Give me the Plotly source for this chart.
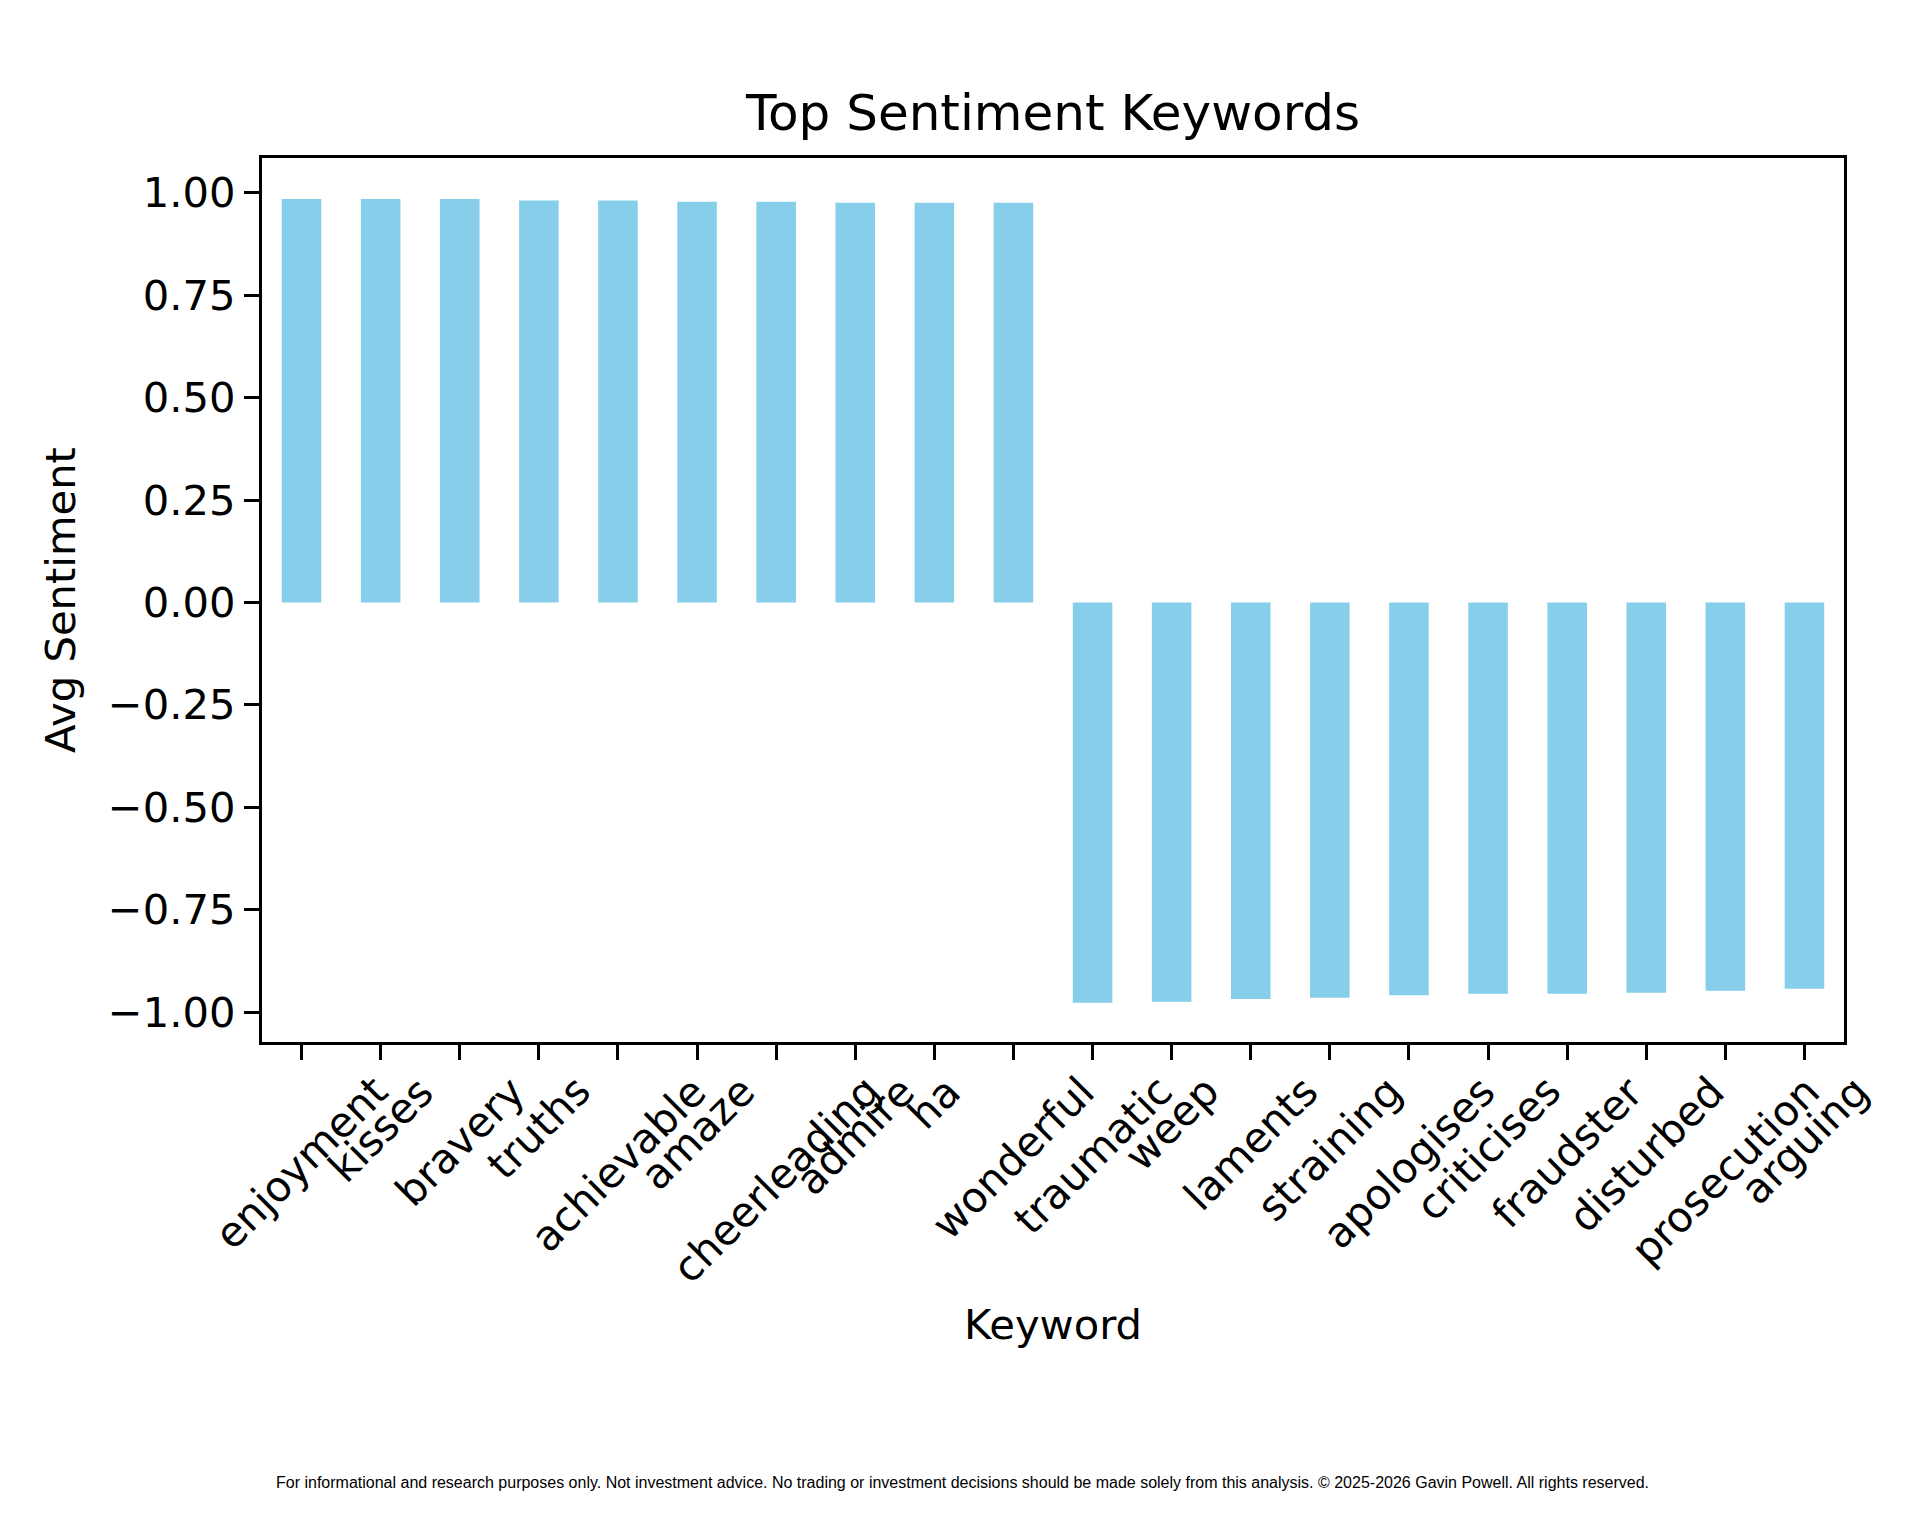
import plotly.graph_objects as go

# keywords and their average sentiment
keywords = ["enjoyment", "kisses", "bravery", "truths", "achievable", "amaze",
            "cheerleading", "admire", "ha", "wonderful", "traumatic", "weep",
            "laments", "straining", "apologises", "criticises", "fraudster",
            "disturbed", "prosecution", "arguing"]
avg_sentiment = [0.985, 0.985, 0.985, 0.981, 0.981, 0.978, 0.978, 0.976, 0.976, 0.976,
                 -0.977, -0.975, -0.968, -0.965, -0.959, -0.955, -0.955, -0.953, -0.948, -0.943]

y_ticks = [-1.0, -0.75, -0.5, -0.25, 0.0, 0.25, 0.5, 0.75, 1.0]
y_tick_text = ["\u22121.00", "\u22120.75", "\u22120.50", "\u22120.25", "0.00",
               "0.25", "0.50", "0.75", "1.00"]

title = "Top Sentiment Keywords"
x_title = "Keyword"
y_title = "Avg Sentiment"
footnote = ("For informational and research purposes only. Not investment advice. "
            "No trading or investment decisions should be made solely from this analysis. "
            "\u00a9 2025-2026 Gavin Powell. All rights reserved.")

W, H = 1920, 1520
L, R, T, B = 254, 1836, 150, 1034
pw, ph = R - L, B - T
FONT = "DejaVu Sans"
fs = 41.7

fig = go.Figure(go.Bar(x=keywords, y=avg_sentiment, width=0.5,
                       marker_color="#87CEEB", marker_line_width=0))

# rotated tick labels, centred under each tick like matplotlib
for k in keywords:
    fig.add_annotation(x=k, y=0, xref="x", yref="paper", text=k, textangle=-45,
                       xanchor="center", yanchor="top", yshift=-22, showarrow=False,
                       font=dict(family=FONT, size=fs, color="black"))

fig.add_annotation(x=0.5, y=(B - 1316) / ph, xref="paper", yref="paper", text=x_title,
                   showarrow=False, xanchor="center", yanchor="middle",
                   font=dict(family=FONT, size=fs, color="black"))
fig.add_annotation(x=(52 - L) / pw, y=0.5, xref="paper", yref="paper", text=y_title,
                   textangle=-90, showarrow=False, xanchor="center", yanchor="middle",
                   font=dict(family=FONT, size=fs, color="black"))
fig.add_annotation(x=(954 - L) / pw, y=(B - 1474) / ph, xref="paper", yref="paper",
                   text=footnote, showarrow=False, xanchor="center", yanchor="middle",
                   font=dict(family="Liberation Sans", size=16, color="black"))

fig.update_layout(
    width=W, height=H,
    margin=dict(l=L, r=W - R, t=T, b=H - B, pad=0),
    paper_bgcolor="white", plot_bgcolor="white",
    showlegend=False,
    title=dict(text=title, x=0.5, xref="paper", xanchor="center",
               y=(H - 104) / H, yanchor="middle",
               font=dict(family=FONT, size=50, color="black")),
    font=dict(family=FONT, color="black"),
)
fig.update_xaxes(range=[-0.5, 19.5], showticklabels=False, ticks="outside",
                 ticklen=15, tickwidth=3.3, tickcolor="black",
                 showline=True, linewidth=3.3, linecolor="black", mirror=True,
                 showgrid=False, zeroline=False)
fig.update_yaxes(range=[-1.073, 1.085], tickvals=y_ticks, ticktext=y_tick_text,
                 ticks="outside", ticklen=15, tickwidth=3.3, tickcolor="black",
                 tickfont=dict(family=FONT, size=fs, color="black"),
                 showline=True, linewidth=3.3, linecolor="black", mirror=True,
                 showgrid=False, zeroline=False)

fig.write_html("out.html")
